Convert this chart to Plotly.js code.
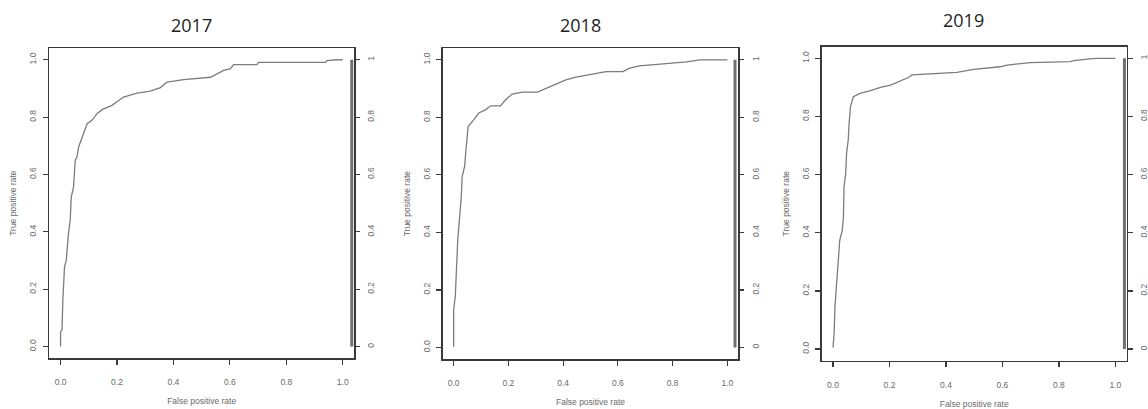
<!DOCTYPE html>
<html>
<head>
<meta charset="utf-8">
<script src="https://cdn.plot.ly/plotly-3.0.1.min.js"></script>
<style>html,body{margin:0;padding:0;background:#fff;}#chart{width:1148px;height:409px;}</style>
</head>
<body>
<div id="chart"></div>
<script>
// ---- Data ----
const panelTitles = ["2017", "2018", "2019"];

const fpr2017 = [0, 0, 0.005, 0.008, 0.014, 0.02, 0.028, 0.034, 0.038, 0.046, 0.052, 0.058, 0.064, 0.076, 0.094, 0.111, 0.129, 0.147, 0.182, 0.223, 0.271, 0.318, 0.354, 0.377, 0.436, 0.531, 0.578, 0.602, 0.613, 0.696, 0.702, 0.939, 0.944, 0.98, 1];
const tpr2017 = [0, 0.052, 0.058, 0.162, 0.278, 0.3, 0.394, 0.441, 0.522, 0.557, 0.65, 0.66, 0.696, 0.731, 0.777, 0.789, 0.812, 0.826, 0.841, 0.87, 0.884, 0.891, 0.903, 0.922, 0.931, 0.939, 0.963, 0.969, 0.983, 0.983, 0.991, 0.991, 0.997, 1, 1];

const fpr2018 = [0, 0, 0.006, 0.01, 0.015, 0.022, 0.028, 0.031, 0.04, 0.045, 0.053, 0.073, 0.092, 0.116, 0.135, 0.171, 0.19, 0.214, 0.251, 0.306, 0.337, 0.373, 0.41, 0.447, 0.496, 0.557, 0.618, 0.643, 0.679, 0.765, 0.851, 0.9, 1];
const tpr2018 = [0.003, 0.131, 0.177, 0.282, 0.374, 0.455, 0.525, 0.594, 0.629, 0.687, 0.768, 0.791, 0.815, 0.826, 0.84, 0.84, 0.861, 0.881, 0.888, 0.888, 0.901, 0.917, 0.93, 0.94, 0.948, 0.959, 0.959, 0.971, 0.979, 0.985, 0.993, 1, 1];

const fpr2019 = [0, 0.004, 0.007, 0.013, 0.019, 0.024, 0.033, 0.037, 0.039, 0.045, 0.048, 0.054, 0.057, 0.062, 0.072, 0.098, 0.133, 0.168, 0.204, 0.239, 0.269, 0.28, 0.333, 0.439, 0.498, 0.592, 0.616, 0.698, 0.84, 0.852, 0.91, 0.934, 1];
const tpr2019 = [0.005, 0.054, 0.146, 0.237, 0.329, 0.375, 0.409, 0.455, 0.558, 0.604, 0.673, 0.719, 0.776, 0.834, 0.868, 0.88, 0.889, 0.9, 0.908, 0.922, 0.935, 0.943, 0.946, 0.952, 0.962, 0.971, 0.977, 0.985, 0.989, 0.992, 0.998, 1, 1];

const xLabel = "False positive rate";
const yLabel = "True positive rate";
const tickVals = [0, 0.2, 0.4, 0.6, 0.8, 1];
const leftTickText = ["0.0", "0.2", "0.4", "0.6", "0.8", "1.0"];
const rightTickText = ["0", "0.2", "0.4", "0.6", "0.8", "1"];
const cutoffBar = [0, 1];

// ---- Layout geometry (pixels) ----
const W = 1148, H = 409;
const boxes = [
  {l: 49.3, r: 354, t: 48.3, b: 358, tx: 191, ty: 25, bx: 1.032},
  {l: 442.7, r: 738.3, t: 48.3, b: 359, tx: 580, ty: 25, bx: 1.028},
  {l: 821.7, r: 1126.7, t: 46.7, b: 360.7, tx: 963, ty: 20, bx: 1.032}
];
const series = [[fpr2017, tpr2017], [fpr2018, tpr2018], [fpr2019, tpr2019]];

const tickFont = {family: "Liberation Sans, Arial, sans-serif", size: 8.5, color: "#6a6a6a"};
const titleFont = {family: "Liberation Sans, Arial, sans-serif", size: 8.5, color: "#6a6a6a"};
const boxColor = "#3a3a3a";

const data = [];
const layout = {
  width: W, height: H,
  margin: {l: 0, r: 0, t: 0, b: 0},
  paper_bgcolor: "#ffffff", plot_bgcolor: "#ffffff",
  showlegend: false,
  annotations: []
};

boxes.forEach((bx, i) => {
  const n = i + 1;
  const xa = n === 1 ? "x" : "x" + n;
  const ya = n === 1 ? "y" : "y" + n;
  const yr = "y" + (n + 3);
  const xd = [bx.l / W, bx.r / W];
  const yd = [1 - bx.b / H, 1 - bx.t / H];

  data.push({
    type: "scatter", mode: "lines",
    x: series[i][0], y: series[i][1],
    xaxis: xa, yaxis: ya,
    line: {color: "#7c7c7c", width: 1.3},
    hoverinfo: "x+y"
  });
  // cutoff colour bar on the right edge, drawn against the right-hand axis
  data.push({
    type: "scatter", mode: "lines",
    x: [bx.bx, bx.bx], y: cutoffBar,
    xaxis: xa, yaxis: yr,
    line: {color: "#707070", width: 3},
    hoverinfo: "skip"
  });

  layout["xaxis" + (n === 1 ? "" : n)] = {
    domain: xd, range: [-0.04, 1.04], anchor: ya,
    showgrid: false, zeroline: false,
    showline: true, mirror: true, linecolor: boxColor, linewidth: 1.6,
    ticks: "outside", ticklen: 5, tickwidth: 1.2, tickcolor: boxColor,
    tickvals: tickVals, ticktext: leftTickText,
    tickfont: tickFont, ticklabelstandoff: 10,
    title: {text: xLabel, font: titleFont, standoff: 12},
    fixedrange: true
  };
  layout["yaxis" + (n === 1 ? "" : n)] = {
    domain: yd, range: [-0.04, 1.04], anchor: xa,
    showgrid: false, zeroline: false,
    showline: true, mirror: true, linecolor: boxColor, linewidth: 1.6,
    ticks: "outside", ticklen: 5, tickwidth: 1.2, tickcolor: boxColor,
    tickvals: tickVals, ticktext: leftTickText, tickangle: -90,
    tickfont: tickFont, ticklabelstandoff: 3,
    title: {text: yLabel, font: titleFont, standoff: 10},
    fixedrange: true
  };
  layout["yaxis" + (n + 3)] = {
    domain: yd, range: [-0.04, 1.04], anchor: xa, overlaying: ya, side: "right",
    showgrid: false, zeroline: false, showline: false,
    ticks: "outside", ticklen: 5, tickwidth: 1.2, tickcolor: boxColor,
    tickvals: tickVals, ticktext: rightTickText, tickangle: -90,
    tickfont: tickFont, ticklabelstandoff: 4,
    fixedrange: true
  };
  layout.annotations.push({
    text: panelTitles[i], xref: "paper", yref: "paper",
    x: bx.tx / W, y: 1 - bx.ty / H, xanchor: "center", yanchor: "middle",
    showarrow: false,
    font: {family: "'Open Sans', 'Noto Sans', sans-serif", size: 18, color: "#1e1e1e", weight: 400}
  });
});

Plotly.newPlot("chart", data, layout, {displayModeBar: false, staticPlot: true});
</script>
</body>
</html>
